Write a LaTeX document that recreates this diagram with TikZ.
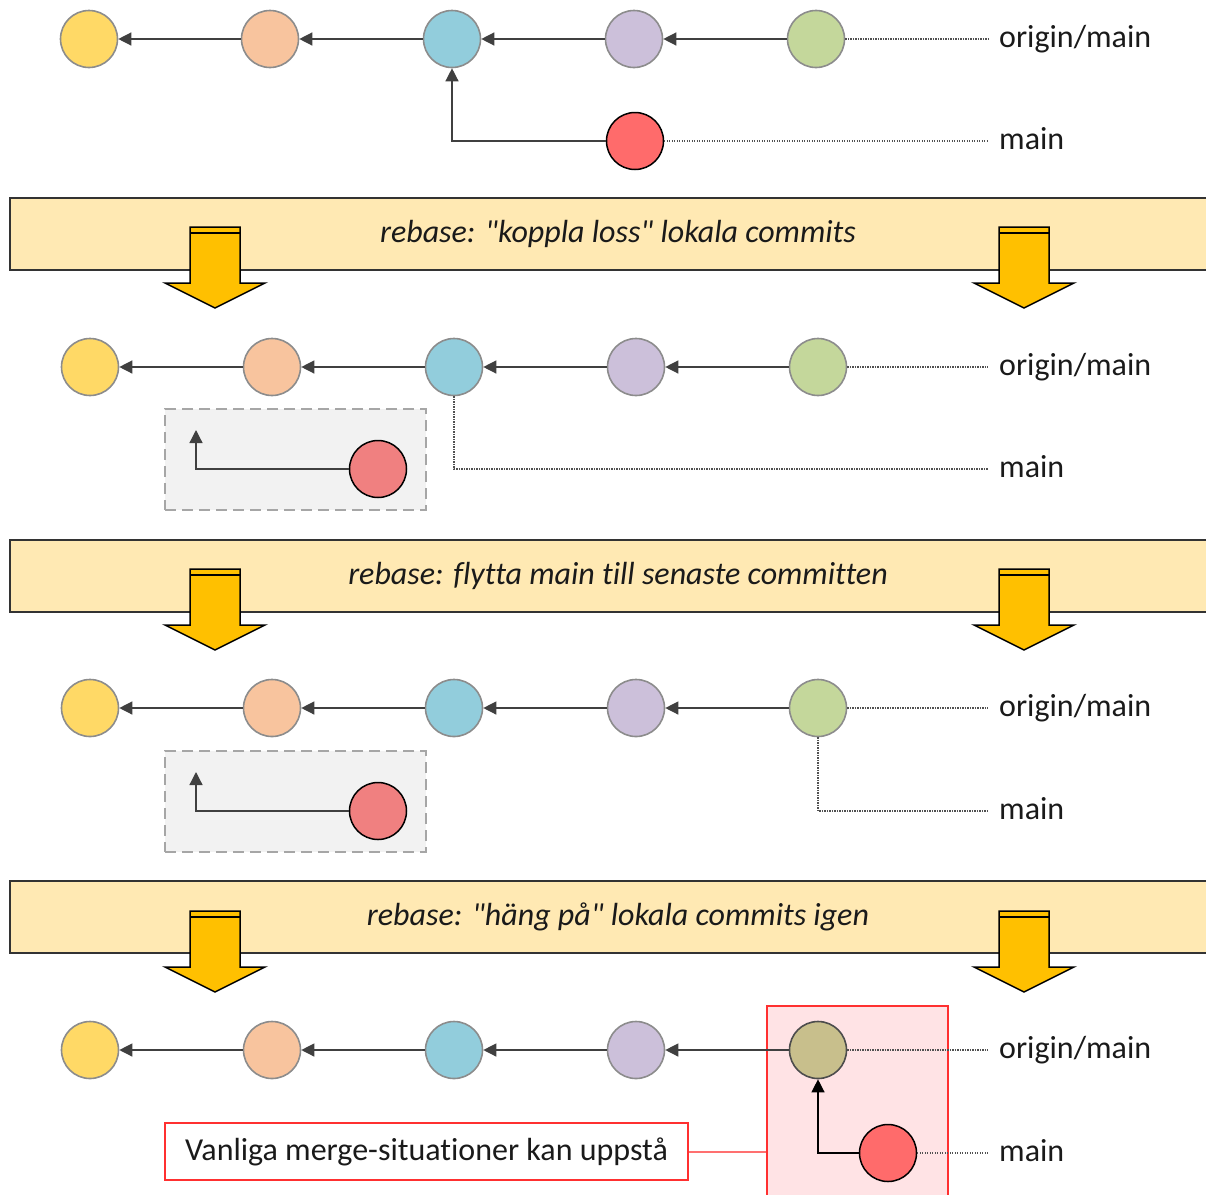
\documentclass[tikz,border=0pt]{standalone}
\usepackage{fontspec}
\setmainfont{Carlito}[Ligatures={TeXOff,NoCommon}]
\usetikzlibrary{arrows.meta}
\definecolor{cyel}{HTML}{FFD966}
\definecolor{cpeach}{HTML}{F8C49E}
\definecolor{cblue}{HTML}{92CDDC}
\definecolor{clav}{HTML}{CCC0DA}
\definecolor{cgreen}{HTML}{C4D79B}
\definecolor{ckhaki}{HTML}{C8BF8C}
\definecolor{cred}{HTML}{FF6B6B}
\definecolor{cpink}{HTML}{F08080}
\definecolor{cborder}{HTML}{8C8C8C}
\definecolor{cline}{HTML}{404040}
\definecolor{cdotc}{HTML}{505050}
\definecolor{ctext}{HTML}{1A1A1A}
\definecolor{cbanner}{HTML}{FFE9B3}
\definecolor{cgold}{HTML}{FFC000}
\definecolor{cgraybox}{HTML}{F2F2F2}
\definecolor{cdash}{HTML}{A6A6A6}
\definecolor{cmerge}{HTML}{FFE3E5}
\definecolor{credline}{HTML}{FF3030}
\definecolor{clightred}{HTML}{FF7070}
\newcommand\downblock[2]{%
  \draw[blockarrow] (#1-25,#2) -- (#1+25,#2) -- (#1+25,#2+56) -- (#1+50,#2+56)
    -- (#1,#2+81) -- (#1-50,#2+56) -- (#1-25,#2+56) -- cycle;
  \draw[blockcap] (#1-25,#2+6) -- (#1+25,#2+6);}
\begin{document}
\begin{tikzpicture}[x=1pt,y=-1pt,
  commit/.style={circle, draw=cborder, line width=1.6pt, minimum size=57pt, inner sep=0pt},
  localc/.style={commit, draw=black, line width=1.5pt},
  arr/.style={draw=cline, line width=1.3pt, -{Triangle[length=13pt,width=13pt]}},
  dotl/.style={draw=cdotc, line width=1.2pt, dash pattern=on 1.2pt off 1.3pt},
  txt/.style={font=\fontsize{32}{38}\selectfont, text=ctext, text height=23pt, text depth=6pt},
  lbl/.style={txt, anchor=west, inner xsep=11pt, inner ysep=0pt},
  banner/.style={draw=black!80, line width=1.6pt, fill=cbanner, minimum width=1216pt,
     minimum height=72pt, txt, font=\fontsize{32}{38}\selectfont\itshape},
  blockarrow/.style={draw=black, line width=1.5pt, fill=cgold, line join=miter},
  blockcap/.style={draw=black, line width=1.2pt},
  dashbox/.style={draw=cdash, fill=cgraybox, line width=2pt, dash pattern=on 11pt off 6pt,
     minimum width=261pt, minimum height=101pt, inner sep=0pt},
  mergebox/.style={draw=credline, fill=cmerge, line width=1.6pt, minimum width=181pt,
     minimum height=200pt, inner sep=0pt},
  callout/.style={txt, draw=credline, line width=2pt, minimum width=523pt, minimum height=57pt},
]
\useasboundingbox (0,0) rectangle (1206,1194);
\clip (0,0) rectangle (1206,1194);

% ---------- Row 1 ----------
\node[commit, fill=cyel]   (a1) at (89,39) {};
\node[commit, fill=cpeach] (b1) at (270,39) {};
\node[commit, fill=cblue]  (c1) at (452,39) {};
\node[commit, fill=clav]   (d1) at (634,39) {};
\node[commit, fill=cgreen] (e1) at (816,39) {};
\node[localc, fill=cred]   (r1) at (635,141) {};
\node[lbl] (om1) at (988,39) {origin/main};
\node[lbl] (m1)  at (988,141) {main};
\draw[arr] (b1) -- (a1);
\draw[arr] (c1) -- (b1);
\draw[arr] (d1) -- (c1);
\draw[arr] (e1) -- (d1);
\draw[arr] (r1.west) -| (c1.south);
\draw[dotl] (e1.east) -- (om1.west);
\draw[dotl] (r1.east) -- (m1.west);

% ---------- Banner 1 ----------
\node[banner] (ban1) at (618,234) {rebase: "koppla loss" lokala commits};
\downblock{215}{227}
\downblock{1024}{227}

% ---------- Row 2 ----------
\node[commit, fill=cyel]   (a2) at (90,367) {};
\node[commit, fill=cpeach] (b2) at (272,367) {};
\node[commit, fill=cblue]  (c2) at (454,367) {};
\node[commit, fill=clav]   (d2) at (636,367) {};
\node[commit, fill=cgreen] (e2) at (818,367) {};
\node[dashbox] (gb2) at (295.5,459.5) {};
\node[localc, fill=cpink] (r2) at (378,469) {};
\coordinate (t2) at (196,430);
\node[lbl] (om2) at (988,367) {origin/main};
\node[lbl] (m2)  at (988,469) {main};
\draw[arr] (b2) -- (a2);
\draw[arr] (c2) -- (b2);
\draw[arr] (d2) -- (c2);
\draw[arr] (e2) -- (d2);
\draw[arr] (r2.west) -| (t2);
\draw[dotl] (e2.east) -- (om2.west);
\draw[dotl] (c2.south) |- (m2.west);

% ---------- Banner 2 ----------
\node[banner] (ban2) at (618,576) {rebase: flytta main till senaste committen};
\downblock{215}{569}
\downblock{1024}{569}

% ---------- Row 3 ----------
\node[commit, fill=cyel]   (a3) at (90,708) {};
\node[commit, fill=cpeach] (b3) at (272,708) {};
\node[commit, fill=cblue]  (c3) at (454,708) {};
\node[commit, fill=clav]   (d3) at (636,708) {};
\node[commit, fill=cgreen] (e3) at (818,708) {};
\node[dashbox] (gb3) at (295.5,801.5) {};
\node[localc, fill=cpink] (r3) at (378,811) {};
\coordinate (t3) at (196,772);
\node[lbl] (om3) at (988,708) {origin/main};
\node[lbl] (m3)  at (988,811) {main};
\draw[arr] (b3) -- (a3);
\draw[arr] (c3) -- (b3);
\draw[arr] (d3) -- (c3);
\draw[arr] (e3) -- (d3);
\draw[arr] (r3.west) -| (t3);
\draw[dotl] (e3.east) -- (om3.west);
\draw[dotl] (e3.south) |- (m3.west);

% ---------- Banner 3 ----------
\node[banner] (ban3) at (618,917) {rebase: "häng på" lokala commits igen};
\downblock{215}{911}
\downblock{1024}{911}

% ---------- Row 4 ----------
\node[mergebox] (mrg) at (857.5,1106) {};
\node[commit, fill=cyel]   (a4) at (90,1050) {};
\node[commit, fill=cpeach] (b4) at (272,1050) {};
\node[commit, fill=cblue]  (c4) at (454,1050) {};
\node[commit, fill=clav]   (d4) at (636,1050) {};
\node[commit, fill=ckhaki, draw=black!45!cborder] (e4) at (818,1050) {};
\node[localc, fill=cred]   (r4) at (888,1153) {};
\node[lbl] (om4) at (988,1050) {origin/main};
\node[lbl] (m4)  at (988,1153) {main};
\node[callout] (note) at (426.5,1151.5) {Vanliga merge-situationer kan uppstå};
\draw[arr] (b4) -- (a4);
\draw[arr] (c4) -- (b4);
\draw[arr] (d4) -- (c4);
\draw[arr] (e4) -- (d4);
\draw[arr, draw=black] (r4.west) -| (e4.south);
\draw[dotl] (e4.east) -- (om4.west);
\draw[dotl] (r4.east) -- (m4.west);
\draw[draw=clightred, line width=2pt] (note.east) -- (note.east -| mrg.west);
\end{tikzpicture}
\end{document}
